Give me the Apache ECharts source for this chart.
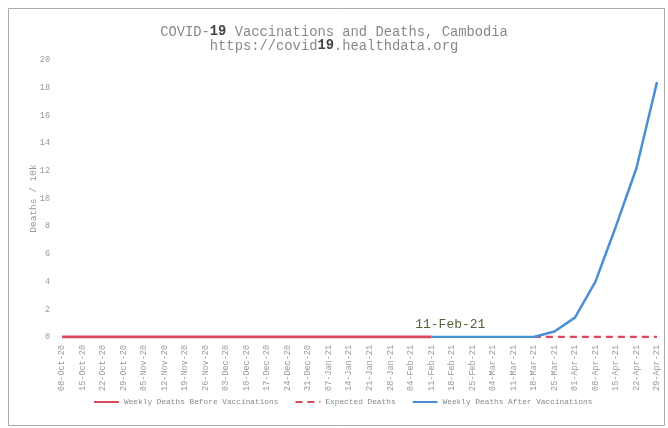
<!DOCTYPE html>
<html>
<head>
<meta charset="utf-8">
<script src="https://cdn.jsdelivr.net/npm/echarts@6/dist/echarts.min.js"></script>
<style>html,body{margin:0;padding:0;background:#fff}#c{width:668px;height:428px}</style>
</head>
<body>
<div id="c"></div>
<script>
const categories = ['08-Oct-20','15-Oct-20','22-Oct-20','29-Oct-20','05-Nov-20','12-Nov-20','19-Nov-20','26-Nov-20','03-Dec-20','10-Dec-20','17-Dec-20','24-Dec-20','31-Dec-20','07-Jan-21','14-Jan-21','21-Jan-21','28-Jan-21','04-Feb-21','11-Feb-21','18-Feb-21','25-Feb-21','04-Mar-21','11-Mar-21','18-Mar-21','25-Mar-21','01-Apr-21','08-Apr-21','15-Apr-21','22-Apr-21','29-Apr-21'];
const beforeVacc = [0,0,0,0,0,0,0,0,0,0,0,0,0,0,0,0,0,0,0,null,null,null,null,null,null,null,null,null,null,null];
const expected = [null,null,null,null,null,null,null,null,null,null,null,null,null,null,null,null,null,null,null,null,null,null,null,0,0,0,0,0,0,0];
const afterVacc = [null,null,null,null,null,null,null,null,null,null,null,null,null,null,null,null,null,null,0,0,0,0,0,0,0.4,1.4,4.0,8.0,12.2,18.4];
const yTicks = {min: 0, max: 20, interval: 2};
const annotation = {index: 18, text: '11-Feb-21'};

const mono = '"Liberation Mono", "DejaVu Sans Mono", monospace';
const chart = echarts.init(document.getElementById('c'));
chart.setOption({
  animation: false,
  backgroundColor: '#fff',
  graphic: [{type: 'rect', shape: {x: 8.5, y: 8.5, width: 656, height: 417}, style: {fill: 'none', stroke: '#aaa', lineWidth: 1}}],
  title: {
    left: 'center', top: 20,
    text: '{n|COVID-}{b|19}{n| Vaccinations and Deaths, Cambodia}\n{n|https://covid}{b|19}{n|.healthdata.org}',
    textStyle: {
      fontWeight: 'normal',
      rich: {
        n: {fontFamily: mono, fontSize: 13.8, color: '#888', fontWeight: 'normal', lineHeight: 14},
        b: {fontFamily: mono, fontSize: 13.8, color: '#444', fontWeight: 'bold', lineHeight: 14}
      }
    }
  },
  legend: {
    bottom: 17, left: 88, itemGap: 16, itemWidth: 25, itemHeight: 10,
    itemStyle: {opacity: 0},
    textStyle: {fontFamily: mono, fontSize: 7.8, color: '#888'},
    data: ['Weekly Deaths Before Vaccinations', 'Expected Deaths', 'Weekly Deaths After Vaccinations']
  },
  grid: {left: 62, right: 11, top: 60, bottom: 91, containLabel: false},
  xAxis: {
    type: 'category', data: categories, boundaryGap: false,
    axisLine: {show: false}, axisTick: {show: false},
    axisLabel: {rotate: 90, interval: 0, fontFamily: mono, fontSize: 8.5, color: '#999', margin: 8}
  },
  yAxis: {
    type: 'value', min: yTicks.min, max: yTicks.max, interval: yTicks.interval,
    name: 'Deaths / 10k', nameLocation: 'middle', nameGap: 24, nameMoveOverlap: false,
    nameTextStyle: {fontFamily: mono, fontSize: 9.5, color: '#999'},
    axisLine: {show: false}, axisTick: {show: false}, splitLine: {show: false},
    axisLabel: {fontFamily: mono, fontSize: 8.5, color: '#999', margin: 12}
  },
  series: [
    {name: 'Weekly Deaths Before Vaccinations', type: 'line', data: beforeVacc, symbol: 'none', color: '#d9485c', lineStyle: {width: 3, color: '#d9485c'}},
    {name: 'Expected Deaths', type: 'line', data: expected, symbol: 'none', color: '#d9485c', lineStyle: {width: 2.5, color: '#d9485c', type: [7, 5]}},
    {name: 'Weekly Deaths After Vaccinations', type: 'line', data: afterVacc, symbol: 'none', color: '#4a8fd4', lineStyle: {width: 2.5, color: '#4a8fd4'}, z: 3,
      markPoint: {symbol: 'circle', symbolSize: 2, itemStyle: {color: 'rgba(0,0,0,0)'},
        data: [{coord: [annotation.index, 0], value: annotation.text}],
        label: {show: true, position: 'inside', formatter: annotation.text, fontFamily: mono, fontSize: 13, color: '#4f6436', offset: [19, -12]}}
    }
  ]
});
</script>
</body>
</html>
